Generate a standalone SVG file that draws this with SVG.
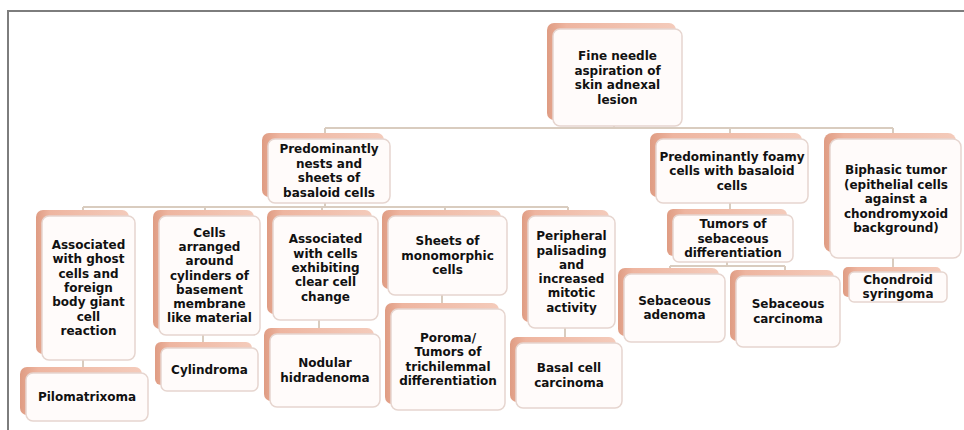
<svg xmlns="http://www.w3.org/2000/svg" width="964" height="430" viewBox="0 0 964 430">
<defs>
<linearGradient id="sh" x1="0" y1="0" x2="1" y2="0">
<stop offset="0" stop-color="#df9c83"/>
<stop offset="0.15" stop-color="#eeb5a0"/>
<stop offset="1" stop-color="#f4cbbb"/>
</linearGradient>
<style>
.bg{fill:#ffffff}
.frame{stroke:#7d7d7d;stroke-width:2;fill:none}
.sh{fill:url(#sh)}
.fr{fill:#fffbfa;stroke:#e6d5cf;stroke-width:1.5}
.t{font-family:"DejaVu Sans","Liberation Sans",sans-serif;font-weight:bold;font-size:12px;fill:#111;text-anchor:middle}
.c{stroke:#d9ccbf;stroke-width:2;fill:none}
</style>
</defs>
<rect class="bg" x="0" y="0" width="964" height="430"/>
<path class="frame" d="M8,430 V11 H964"/>

<g id="connectors">
<path class="c" d="M614,126 V128 M325,128 H893 M325,128 V134 M730,128 V134 M893,128 V134"/>
<path class="c" d="M325,203 V207 M83,207 H568 M83,207 V211 M205,207 V211 M322,207 V211 M445,207 V211 M568,207 V211"/>
<path class="c" d="M730,203 V210"/>
<path class="c" d="M727,262 V266 M670,266 H785 M670,266 V269 M785,266 V271"/>
<path class="c" d="M893,258 V268"/>
<path class="c" d="M83,360 V368 M203,335 V343 M319,320 V329 M442,295 V304 M565,328 V338"/>
</g>

<g id="root">
<rect class="sh" x="547" y="23" width="129" height="97" rx="7"/>
<rect class="fr" x="553" y="29" width="129" height="97" rx="7"/>
<text class="t" x="617.5"><tspan x="617.5" y="60">Fine needle</tspan><tspan x="617.5" y="74.5">aspiration of</tspan><tspan x="617.5" y="89">skin adnexal</tspan><tspan x="617.5" y="103.5">lesion</tspan></text>
</g>

<g id="nests">
<rect class="sh" x="262" y="133" width="122" height="64" rx="7"/>
<rect class="fr" x="268" y="139" width="122" height="64" rx="7"/>
<text class="t"><tspan x="329" y="153">Predominantly</tspan><tspan x="329" y="167.5">nests and</tspan><tspan x="329" y="182">sheets of</tspan><tspan x="329" y="196.5">basaloid cells</tspan></text>
</g>

<g id="foamy">
<rect class="sh" x="650" y="133" width="152" height="64" rx="7"/>
<rect class="fr" x="656" y="139" width="152" height="64" rx="7"/>
<text class="t"><tspan x="732" y="160.5">Predominantly foamy</tspan><tspan x="732" y="175">cells with basaloid</tspan><tspan x="732" y="189.5">cells</tspan></text>
</g>

<g id="biphasic">
<rect class="sh" x="824" y="133" width="132" height="119" rx="8"/>
<rect class="fr" x="830" y="139" width="131" height="119" rx="8"/>
<text class="t"><tspan x="896" y="174">Biphasic tumor</tspan><tspan x="896" y="188.5">(epithelial cells</tspan><tspan x="896" y="203">against a</tspan><tspan x="896" y="217.5">chondromyxoid</tspan><tspan x="896" y="232">background)</tspan></text>
</g>

<g id="sebaceous-diff">
<rect class="sh" x="667" y="209" width="120" height="47" rx="6"/>
<rect class="fr" x="673" y="215" width="120" height="47" rx="6"/>
<text class="t"><tspan x="733" y="228">Tumors of</tspan><tspan x="733" y="242.5">sebaceous</tspan><tspan x="733" y="257">differentiation</tspan></text>
</g>

<g id="sebaceous-adenoma">
<rect class="sh" x="618" y="268" width="101" height="68" rx="7"/>
<rect class="fr" x="624" y="274" width="101" height="68" rx="7"/>
<text class="t"><tspan x="674.5" y="304.5">Sebaceous</tspan><tspan x="674.5" y="319">adenoma</tspan></text>
</g>

<g id="sebaceous-carcinoma">
<rect class="sh" x="730" y="270" width="104" height="71" rx="7"/>
<rect class="fr" x="736" y="276" width="104" height="71" rx="7"/>
<text class="t"><tspan x="788" y="308">Sebaceous</tspan><tspan x="788" y="322.5">carcinoma</tspan></text>
</g>

<g id="chondroid">
<rect class="sh" x="843" y="267" width="98" height="30" rx="5"/>
<rect class="fr" x="849" y="272" width="98" height="30" rx="5"/>
<text class="t"><tspan x="898" y="283.5">Chondroid</tspan><tspan x="898" y="298">syringoma</tspan></text>
</g>

<g id="ghost">
<rect class="sh" x="36" y="210" width="93" height="144" rx="7"/>
<rect class="fr" x="42" y="216" width="93" height="144" rx="7"/>
<text class="t"><tspan x="88.5" y="249">Associated</tspan><tspan x="88.5" y="263.3">with ghost</tspan><tspan x="88.5" y="277.6">cells and</tspan><tspan x="88.5" y="292">foreign</tspan><tspan x="88.5" y="306.3">body giant</tspan><tspan x="88.5" y="320.6">cell</tspan><tspan x="88.5" y="335">reaction</tspan></text>
</g>

<g id="pilomatrixoma">
<rect class="sh" x="20" y="367" width="122" height="48" rx="7"/>
<rect class="fr" x="26" y="373" width="122" height="48" rx="7"/>
<text class="t" x="87" y="401">Pilomatrixoma</text>
</g>

<g id="cylinders">
<rect class="sh" x="153" y="210" width="101" height="119" rx="7"/>
<rect class="fr" x="159" y="216" width="101" height="119" rx="7"/>
<text class="t"><tspan x="209.5" y="236.6">Cells</tspan><tspan x="209.5" y="250.9">arranged</tspan><tspan x="209.5" y="265.2">around</tspan><tspan x="209.5" y="279.5">cylinders of</tspan><tspan x="209.5" y="293.8">basement</tspan><tspan x="209.5" y="308.1">membrane</tspan><tspan x="209.5" y="322.4">like material</tspan></text>
</g>

<g id="cylindroma">
<rect class="sh" x="155" y="342" width="97" height="43" rx="6"/>
<rect class="fr" x="161" y="348" width="97" height="43" rx="6"/>
<text class="t" x="209.5" y="373.5">Cylindroma</text>
</g>

<g id="clear-cell">
<rect class="sh" x="267" y="210" width="105" height="104" rx="7"/>
<rect class="fr" x="273" y="216" width="105" height="104" rx="7"/>
<text class="t"><tspan x="325.5" y="243.4">Associated</tspan><tspan x="325.5" y="257.7">with cells</tspan><tspan x="325.5" y="272">exhibiting</tspan><tspan x="325.5" y="286.3">clear cell</tspan><tspan x="325.5" y="300.6">change</tspan></text>
</g>

<g id="nodular">
<rect class="sh" x="264" y="328" width="110" height="73" rx="7"/>
<rect class="fr" x="270" y="334" width="110" height="73" rx="7"/>
<text class="t"><tspan x="325" y="367.3">Nodular</tspan><tspan x="325" y="381.7">hidradenoma</tspan></text>
</g>

<g id="sheets">
<rect class="sh" x="382" y="210" width="119" height="79" rx="7"/>
<rect class="fr" x="388" y="216" width="119" height="79" rx="7"/>
<text class="t"><tspan x="447.5" y="245">Sheets of</tspan><tspan x="447.5" y="259.5">monomorphic</tspan><tspan x="447.5" y="274">cells</tspan></text>
</g>

<g id="poroma">
<rect class="sh" x="385" y="303" width="114" height="101" rx="7"/>
<rect class="fr" x="391" y="309" width="114" height="101" rx="7"/>
<text class="t"><tspan x="448" y="342">Poroma/</tspan><tspan x="448" y="356.3">Tumors of</tspan><tspan x="448" y="370.6">trichilemmal</tspan><tspan x="448" y="385">differentiation</tspan></text>
</g>

<g id="peripheral">
<rect class="sh" x="522" y="210" width="87" height="112" rx="7"/>
<rect class="fr" x="528" y="216" width="87" height="112" rx="7"/>
<text class="t"><tspan x="571.5" y="240.2">Peripheral</tspan><tspan x="571.5" y="254.5">palisading</tspan><tspan x="571.5" y="268.8">and</tspan><tspan x="571.5" y="283.1">increased</tspan><tspan x="571.5" y="297.4">mitotic</tspan><tspan x="571.5" y="311.7">activity</tspan></text>
</g>

<g id="basal">
<rect class="sh" x="510" y="337" width="106" height="65" rx="7"/>
<rect class="fr" x="516" y="343" width="106" height="65" rx="7"/>
<text class="t"><tspan x="569" y="372.3">Basal cell</tspan><tspan x="569" y="386.7">carcinoma</tspan></text>
</g>
</svg>
